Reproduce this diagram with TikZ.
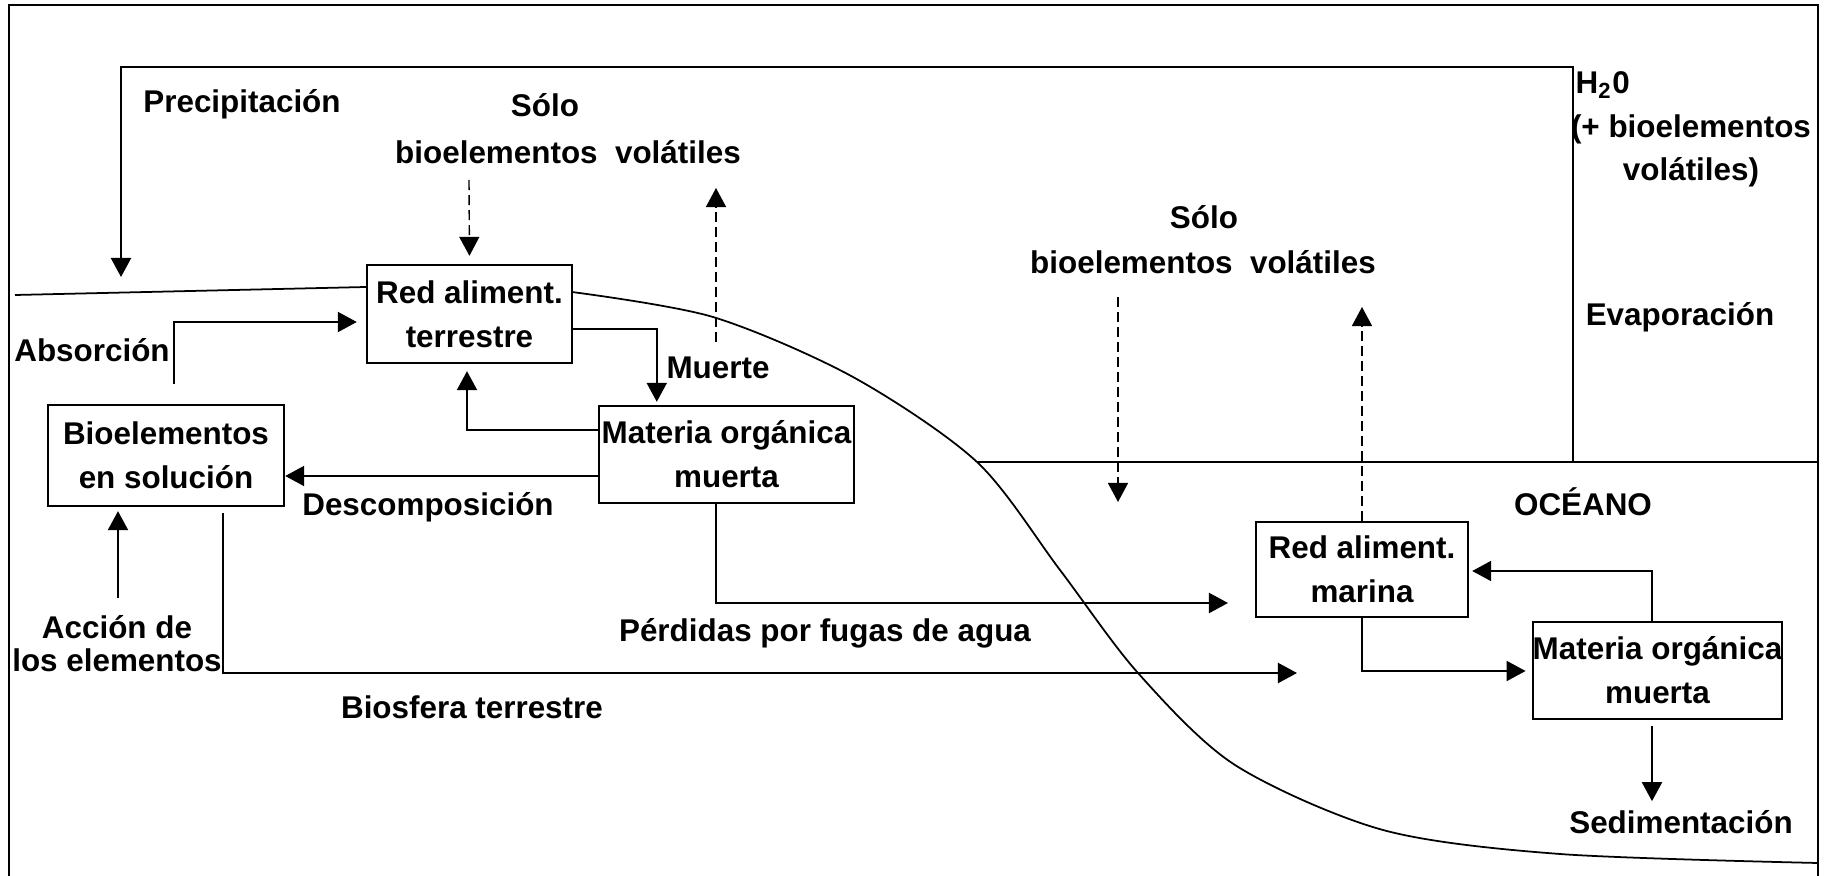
\documentclass[tikz,border=0pt]{standalone}
\usepackage{fontspec}
\setmainfont{Liberation Sans}
\usetikzlibrary{arrows.meta,calc}

\begin{document}
\begin{tikzpicture}[x=0.01cm, y=-0.01cm,
  font=\fontsize{8.93pt}{12.5pt}\selectfont\bfseries,
  box/.style={rectangle, draw, line width=0.65pt, align=center, inner sep=0pt},
  note/.style={align=center, inner sep=0pt},
  arrow/.style={-{Triangle[length=0.19cm,width=0.2cm]}, line width=0.6pt},
  dasharrow/.style={-{Triangle[length=0.19cm,width=0.2cm]}, line width=0.4pt, dash pattern=on 0.1cm off 0.05cm},
  surface/.style={line width=0.5pt}
]
  \useasboundingbox (0,0) rectangle (1832,876);
  \draw[line width=0.6pt] (9,876) -- (9,5) -- (1818,5) -- (1818,876);

  % boxes
  \node[box, minimum width=2.05cm, minimum height=0.98cm] (terr) at (469.5,314) {Red aliment.\\terrestre};
  \node[box, minimum width=2.55cm, minimum height=0.97cm] (mom1) at (726.5,454.5) {Materia orgánica\\muerta};
  \node[box, minimum width=2.36cm, minimum height=1.01cm] (bio) at (166,455.5) {Bioelementos\\en solución};
  \node[box, minimum width=2.12cm, minimum height=0.95cm] (mar) at (1362,569.5) {Red aliment.\\marina};
  \node[box, minimum width=2.47cm, minimum height=0.97cm] (mom2) at (1657.5,670.5) {Materia orgánica\\muerta};

  % labels
  \node[note] (precl) at (242,104) {Precipitación};
  \node[note] (solo1) at (545,105) {Sólo};
  \node[note] (vol1) at (568,152) {bioelementos~~volátiles};
  \node[note] (muertel) at (718,368) {Muerte};
  \node[note] (absl) at (92,350) {Absorción};
  \node[note] (decl) at (428,507) {Descomposición};
  \node[note, font=\fontsize{8.93pt}{9.4pt}\selectfont\bfseries] (accl) at (117,644) {Acción de\\los elementos};
  \node[note] (biosl) at (472,707) {Biosfera terrestre};
  \node[note] (lossl) at (825,633) {Pérdidas por fugas de agua};
  \node[note] (solo2) at (1204,217) {Sólo};
  \node[note] (vol2) at (1203,262) {bioelementos~~volátiles};
  \node[note, anchor=west] (h2o) at (1575,85) {H\textsubscript{2}0};
  \node[note, font=\fontsize{8.93pt}{12.2pt}\selectfont\bfseries] (h2ox) at (1691,151) {(+ bioelementos\\volátiles)};
  \node[note] (evapl) at (1680,317) {Evaporación};
  \node[note] (oceanl) at (1583,502) {OCÉANO};
  \node[note] (sedl) at (1681,822) {Sedimentación};

  % free ends
  \coordinate (skyline) at (0,67);
  \coordinate (evapfoot) at (1573,462);
  \coordinate (rain) at (121,277);
  \coordinate (vin1) at (469,180);
  \coordinate (vout1) at (716,342);
  \coordinate (vout1top) at (716,188);
  \coordinate (absfoot) at (174,384);
  \coordinate (accfoot) at (118,598);
  \coordinate (bioend) at (1297,673);
  \coordinate (lossend) at (1228,603);
  \coordinate (vin2) at (1118,297);
  \coordinate (vin2end) at (1118,502);
  \coordinate (vout2top) at (1362,307);

  % land surface and sea level
  \draw[surface] (15,295) -- (terr.west |- 0,287);
  \draw[surface] plot[smooth] coordinates {(572,292) (713,317) (853,377) (977,462) (1060,570) (1138,673) (1235,765) (1383,830) (1560,854) (1818,863)};
  \draw[surface] (977,462) -- (1818,462);

  % water cycle
  \draw[arrow] (evapfoot) -- (evapfoot |- skyline) -| (rain);

  % land
  \draw[dasharrow, shorten >=0.08cm] (vin1) -- (terr.north);
  \draw[dasharrow] (vout1) -- (vout1top);
  \draw[arrow] (absfoot) |- ($(terr.west)+(-9,8)$);
  \draw[arrow] ($(terr.east)+(0,15)$) -| ($(mom1.north west)+(59,-3)$);
  \draw[arrow] ($(mom1.west)+(0,-24.5)$) -| ($(terr.south)+(-2.5,7)$);
  \draw[arrow] ($(mom1.west)+(0,21.5)$) -- ($(bio.east)+(0,20.5)$);
  \draw[arrow] (accfoot) -- ($(bio.south)+(-48,4)$);
  \draw[arrow] ($(bio.south)+(57,6)$) |- (bioend);
  \draw[arrow] ($(mom1.south)+(-10.5,0)$) |- (lossend);

  % ocean
  \draw[dasharrow] (vin2) -- (vin2end);
  \draw[dasharrow] (mar.north) -- (vout2top);
  \draw[arrow] ($(mom2.north)+(-5.5,0)$) |- ($(mar.east)+(3,1.5)$);
  \draw[arrow] (mar.south) |- ($(mom2.west)+(-6,0.5)$);
  \draw[arrow] ($(mom2.south)+(-5.5,6)$) -- ($(mom2.south)+(-5.5,81)$);
\end{tikzpicture}
\end{document}
